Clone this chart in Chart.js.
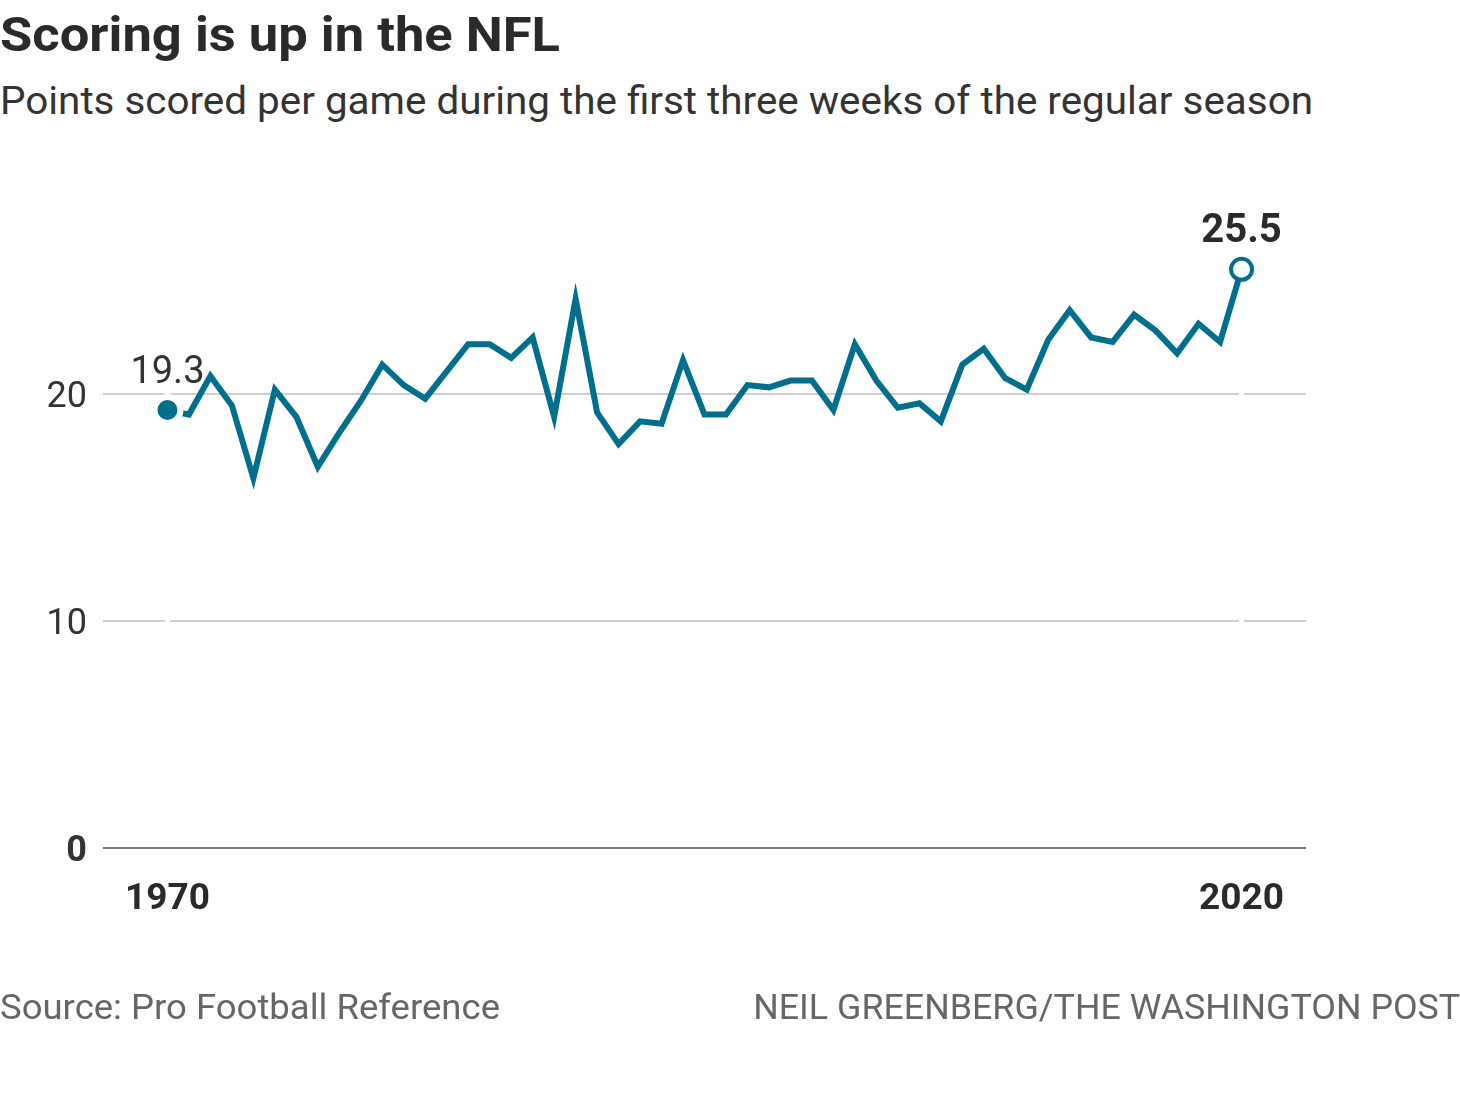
<!DOCTYPE html>
<html>
<head>
<meta charset="utf-8">
<script src="https://cdn.jsdelivr.net/npm/chart.js@4/dist/chart.umd.min.js"></script>
<style>
  html, body { margin: 0; padding: 0; background: #fff; }
  body { width: 1460px; height: 1095px; position: relative; overflow: hidden; font-family: Roboto, "Noto Sans", sans-serif; }
  #chart { position: absolute; left: 0; top: 0; }
  .txt { position: absolute; white-space: nowrap; line-height: 1; }
  #title { left: 0; top: 10px; font-size: 49px; font-weight: 700; color: #2a2a2a; transform-origin: left top; }
  #subtitle { left: 0; top: 82px; font-size: 39px; font-weight: 400; color: #333; transform-origin: left top; }
  #source { left: 0; top: 990px; font-size: 35px; color: #666; transform-origin: left top; }
  #credit { right: 0; top: 990px; font-size: 35px; color: #666; transform-origin: right top; }
</style>
</head>
<body>
<div class="txt" id="title" data-w="560">Scoring is up in the NFL</div>
<div class="txt" id="subtitle" data-w="1313">Points scored per game during the first three weeks of the regular season</div>
<canvas id="chart" width="1460" height="1095"></canvas>
<div class="txt" id="source" data-w="500">Source: Pro Football Reference</div>
<div class="txt" id="credit" data-w="707">NEIL GREENBERG/THE WASHINGTON POST</div>
<script>
// ---- data ----
const years = [1970,1971,1972,1973,1974,1975,1976,1977,1978,1979,
               1980,1981,1982,1983,1984,1985,1986,1987,1988,1989,
               1990,1991,1992,1993,1994,1995,1996,1997,1998,1999,
               2000,2001,2002,2003,2004,2005,2006,2007,2008,2009,
               2010,2011,2012,2013,2014,2015,2016,2017,2018,2019,2020];
const pointsPerGame = [19.3,19.1,20.8,19.5,16.3,20.2,19.0,16.8,18.3,19.7,
                       21.3,20.4,19.8,21.0,22.2,22.2,21.6,22.5,19.0,24.2,
                       19.2,17.8,18.8,18.7,21.5,19.1,19.1,20.4,20.3,20.6,
                       20.6,19.3,22.2,20.6,19.4,19.6,18.8,21.3,22.0,20.7,
                       20.2,22.4,23.7,22.5,22.3,23.5,22.8,21.8,23.1,22.3,25.5];
const xTickYears = [1970, 2020];
const yTickValues = [0, 10, 20];

// fit header/footer text widths
document.querySelectorAll('.txt').forEach(el => {
  const target = parseFloat(el.dataset.w);
  const w = el.getBoundingClientRect().width;
  if (w > 0) el.style.transform = 'scaleX(' + (target / w) + ')';
});

const TEAL = '#006f8e';
const lastIdx = pointsPerGame.length - 1;

const gapPlugin = {
  id: 'gaps',
  beforeDatasetsDraw(chart) {
    const { ctx, chartArea, scales } = chart;
    const y0 = scales.y.getPixelForValue(0);
    ctx.save();
    ctx.fillStyle = '#fff';
    [years[0], years[lastIdx]].forEach(yr => {
      const x = scales.x.getPixelForValue(yr);
      ctx.fillRect(x - 2.5, chartArea.top - 40, 5, y0 - 4 - (chartArea.top - 40));
    });
    ctx.restore();
  }
};

const labelPlugin = {
  id: 'endLabels',
  afterDatasetsDraw(chart) {
    const { ctx, scales } = chart;
    ctx.save();
    ctx.textAlign = 'center';
    ctx.textBaseline = 'alphabetic';
    // first
    let x = scales.x.getPixelForValue(years[0]);
    let y = scales.y.getPixelForValue(pointsPerGame[0]);
    ctx.font = '400 38px Roboto';
    ctx.lineJoin = 'round';
    ctx.strokeStyle = '#fff';
    ctx.lineWidth = 6;
    ctx.strokeText(pointsPerGame[0].toFixed(1), x, y - 27);
    ctx.fillStyle = '#333';
    ctx.fillText(pointsPerGame[0].toFixed(1), x, y - 27);
    // last
    x = scales.x.getPixelForValue(years[lastIdx]);
    y = scales.y.getPixelForValue(pointsPerGame[lastIdx]);
    ctx.font = '700 40px Roboto';
    ctx.strokeText(pointsPerGame[lastIdx].toFixed(1), x, y - 27);
    ctx.fillStyle = '#2a2a2a';
    ctx.fillText(pointsPerGame[lastIdx].toFixed(1), x, y - 27);
    ctx.restore();
  }
};

new Chart(document.getElementById('chart'), {
  type: 'line',
  data: {
    datasets: [{
      data: years.map((yr, i) => ({ x: yr, y: pointsPerGame[i] })),
      borderColor: TEAL,
      borderWidth: 6,
      borderJoinStyle: 'miter',
      tension: 0,
      fill: false,
      pointRadius: ctx => ctx.dataIndex === 0 ? 13 : (ctx.dataIndex === lastIdx ? 10.5 : 0),
      pointBackgroundColor: ctx => ctx.dataIndex === 0 ? TEAL : '#fff',
      pointBorderColor: ctx => ctx.dataIndex === 0 ? '#fff' : TEAL,
      pointBorderWidth: ctx => ctx.dataIndex === 0 ? 6 : 4,
      pointHoverRadius: 0,
      clip: false
    }]
  },
  options: {
    responsive: false,
    animation: false,
    events: [],
    layout: { padding: { left: 0, top: 258, right: 154, bottom: 167 } },
    plugins: { legend: { display: false }, tooltip: { enabled: false } },
    scales: {
      x: {
        type: 'linear',
        min: 1967, max: 2023,
        afterBuildTicks: s => { s.ticks = xTickYears.map(v => ({ value: v })); },
        afterFit: s => { s.height = 80; },
        grid: { display: false, drawTicks: false },
        border: { display: false },
        ticks: {
          autoSkip: false, maxRotation: 0, padding: 30,
          color: '#2a2a2a',
          font: { family: 'Roboto', size: 37, weight: '700' },
          callback: v => String(v)
        }
      },
      y: {
        type: 'linear',
        min: 0, max: 26,
        afterBuildTicks: s => { s.ticks = yTickValues.map(v => ({ value: v })); },
        afterFit: s => { s.width = 103; },
        grid: {
          drawTicks: false,
          color: c => c.tick && c.tick.value === 0 ? '#777' : '#cfcfcf',
          lineWidth: 2
        },
        border: { display: false },
        ticks: {
          padding: 16,
          labelOffset: 4,
          color: '#333',
          font: c => ({ family: 'Roboto', size: 36, weight: (c.tick && c.tick.value === 0) ? '700' : '400' }),
          callback: v => String(v)
        }
      }
    }
  },
  plugins: [gapPlugin, labelPlugin]
});
</script>
</body>
</html>
